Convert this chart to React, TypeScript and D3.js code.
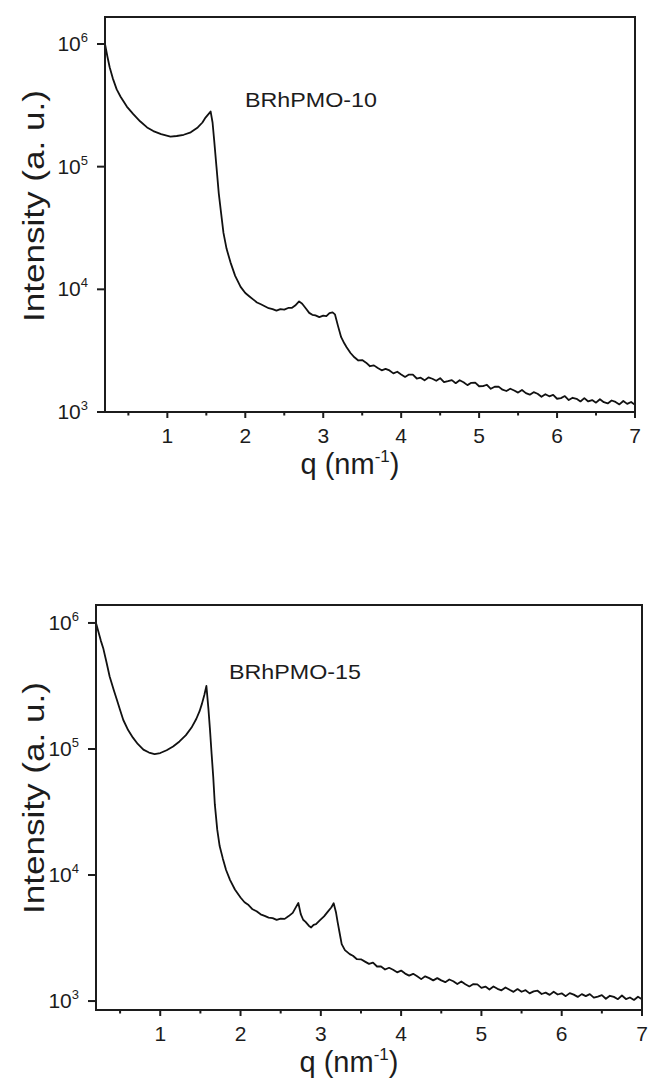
import React from 'react';
import * as d3 from 'd3';

// ---------- data ----------
const qTop = [
  0.20, 0.23, 0.26, 0.30, 0.35, 0.40, 0.48, 0.56, 0.65, 0.74, 0.82, 0.92, 1.04, 1.12, 1.21, 1.30, 1.39, 1.45, 1.49, 1.53, 1.555,
  1.58, 1.60, 1.63, 1.66, 1.69, 1.72, 1.76, 1.81, 1.87, 1.94,
  2.00, 2.05, 2.10, 2.15, 2.20, 2.25, 2.30, 2.35, 2.40, 2.45, 2.50, 2.55, 2.60, 2.64, 2.69, 2.73, 2.78, 2.82, 2.86, 2.90, 2.95,
  3.00, 3.04, 3.08, 3.12, 3.15, 3.19, 3.23, 3.27, 3.30,
  3.35, 3.40, 3.45, 3.50, 3.55, 3.60, 3.65, 3.70, 3.75, 3.80, 3.85, 3.90, 3.95, 4.00, 4.05, 4.10, 4.15, 4.20, 4.25, 4.30, 4.35,
  4.40, 4.45, 4.50, 4.55, 4.60, 4.65, 4.70, 4.75, 4.80, 4.85, 4.90, 4.95, 5.00, 5.05, 5.10, 5.15, 5.20, 5.25, 5.30, 5.35, 5.40,
  5.45, 5.50, 5.55, 5.60, 5.65, 5.70, 5.75, 5.80, 5.85, 5.90, 5.95, 6.00, 6.05, 6.10, 6.15, 6.20, 6.25, 6.30, 6.35, 6.40, 6.45,
  6.50, 6.55, 6.60, 6.65, 6.70, 6.75, 6.80, 6.85, 6.90, 6.95, 7.00,
];
const log10IntensityTop = [
  6.00, 5.90, 5.81, 5.72, 5.63, 5.57, 5.49, 5.43, 5.37, 5.32, 5.29, 5.265, 5.245, 5.25, 5.26, 5.28, 5.32, 5.36, 5.40, 5.43, 5.45,
  5.36, 5.22, 5.00, 4.78, 4.62, 4.46, 4.33, 4.22, 4.11, 4.02,
  3.970, 3.944, 3.918, 3.893, 3.878, 3.862, 3.846, 3.838, 3.826, 3.838, 3.834, 3.848, 3.850, 3.868, 3.902, 3.882, 3.842, 3.808,
  3.792, 3.788, 3.774,
  3.786, 3.782, 3.806, 3.812, 3.796, 3.700, 3.610, 3.560, 3.528,
  3.481, 3.446, 3.420, 3.423, 3.402, 3.373, 3.380, 3.358, 3.340, 3.352, 3.339, 3.315, 3.328, 3.306, 3.286, 3.305, 3.304, 3.273,
  3.280, 3.258, 3.282,
  3.271, 3.255, 3.276, 3.243, 3.251, 3.260, 3.235, 3.259, 3.242, 3.219, 3.238, 3.239, 3.210, 3.211, 3.222, 3.189, 3.206, 3.207,
  3.182, 3.171, 3.190,
  3.175, 3.158, 3.179, 3.154, 3.141, 3.162, 3.149, 3.124, 3.145, 3.128, 3.139, 3.108, 3.113, 3.130, 3.097, 3.116, 3.107, 3.086,
  3.113, 3.086, 3.097,
  3.076, 3.104, 3.080, 3.070, 3.094, 3.082, 3.062, 3.090, 3.066, 3.082, 3.058,
];

const qBottom = [
  0.20, 0.23, 0.26, 0.29, 0.33, 0.37, 0.42, 0.46, 0.50, 0.54, 0.60, 0.66, 0.72, 0.79, 0.86, 0.93, 1.00, 1.08, 1.16, 1.24, 1.32,
  1.39, 1.45, 1.49, 1.52, 1.55, 1.575, 1.60, 1.62, 1.64, 1.66, 1.68, 1.71, 1.74, 1.78, 1.82, 1.87,
  1.93, 2.00, 2.05, 2.10, 2.15, 2.20, 2.25, 2.30, 2.35, 2.40, 2.45, 2.50, 2.55, 2.60, 2.65, 2.69, 2.72, 2.75, 2.78, 2.81, 2.85,
  2.88, 2.91, 2.94, 2.99, 3.04, 3.09, 3.13, 3.16, 3.19, 3.21, 3.24, 3.26, 3.30, 3.36,
  3.40, 3.45, 3.50, 3.55, 3.60, 3.65, 3.70, 3.75, 3.80, 3.85, 3.90, 3.95, 4.00, 4.05, 4.10, 4.15,
  4.20, 4.25, 4.30, 4.35, 4.40, 4.45, 4.50, 4.55, 4.60, 4.65, 4.70, 4.75, 4.80, 4.85, 4.90, 4.95, 5.00, 5.05, 5.10, 5.15, 5.20,
  5.25, 5.30, 5.35, 5.40, 5.45, 5.50, 5.55, 5.60, 5.65, 5.70, 5.75, 5.80, 5.85, 5.90, 5.95, 6.00, 6.05, 6.10, 6.15, 6.20, 6.25,
  6.30, 6.35, 6.40, 6.45, 6.50, 6.55, 6.60, 6.65, 6.70, 6.75, 6.80, 6.85, 6.90, 6.95, 7.00,
];
const log10IntensityBottom = [
  6.00, 5.93, 5.86, 5.80, 5.69, 5.575, 5.47, 5.39, 5.31, 5.23, 5.15, 5.09, 5.04, 4.995, 4.972, 4.96, 4.968, 4.99, 5.02, 5.06, 5.11,
  5.17, 5.24, 5.30, 5.36, 5.43, 5.50, 5.32, 5.15, 4.96, 4.78, 4.56, 4.36, 4.23, 4.13, 4.04, 3.96,
  3.885, 3.822, 3.784, 3.762, 3.728, 3.712, 3.688, 3.676, 3.662, 3.658, 3.644, 3.654, 3.652, 3.674, 3.700, 3.745, 3.778, 3.690,
  3.645, 3.628, 3.598,
  3.584, 3.604, 3.610, 3.642, 3.672, 3.712, 3.742, 3.776, 3.700, 3.625, 3.520, 3.452, 3.404, 3.372,
  3.359, 3.332, 3.331, 3.313, 3.295, 3.305, 3.274, 3.274, 3.250, 3.264, 3.248, 3.228, 3.242, 3.218, 3.202, 3.216,
  3.196, 3.174, 3.196, 3.182, 3.164, 3.182, 3.164, 3.150, 3.171, 3.157, 3.135, 3.155, 3.133, 3.116, 3.135, 3.132, 3.105, 3.115,
  3.092, 3.116, 3.097,
  3.085, 3.108, 3.090, 3.073, 3.095, 3.074, 3.086, 3.061, 3.077, 3.082, 3.056, 3.067, 3.049, 3.074, 3.052, 3.061, 3.039, 3.063,
  3.051, 3.033, 3.055,
  3.039, 3.055, 3.027, 3.035, 3.047, 3.018, 3.042, 3.033, 3.015, 3.044, 3.016, 3.028, 3.009, 3.034, 3.014,
];

const xMajorTicks = [1, 2, 3, 4, 5, 6, 7];
const xMinorTicks = [0.5, 1.5, 2.5, 3.5, 4.5, 5.5, 6.5];
const yDecadeExponents = [3, 4, 5, 6];
const sampleNames = ['BRhPMO-10', 'BRhPMO-15'];
const xTitleMain = 'q (nm';
const xTitleSup = '-1';
const yTitle = 'Intensity (a. u.)';

const FONT = 'Arial, "Liberation Sans", Helvetica, sans-serif';
const INK = '#1c1c1c';

type PanelProps = {
  q: number[];
  logI: number[];
  name: string;
  left: number;
  right: number;
  top: number;
  bottom: number;
  yMinExp: number;
  yMaxExp: number;
  labelX: number;
  labelY: number;
  titleX: number;
  yTitleCenter: number;
  id: string;
};

function Panel(p: PanelProps) {
  const x = d3.scaleLinear().domain([0.2, 7]).range([p.left, p.right]);
  const y = d3.scaleLog().domain([Math.pow(10, p.yMinExp), Math.pow(10, p.yMaxExp)]).range([p.bottom, p.top]);
  const line = d3
    .line<number>()
    .x((_, i) => x(p.q[i]))
    .y((d) => y(Math.pow(10, d)))
    .curve(d3.curveLinear);
  const path = line(p.logI) || '';
  return (
    <g>
      <defs>
        <clipPath id={`clip-${p.id}`}>
          <rect x={p.left} y={p.top} width={p.right - p.left} height={p.bottom - p.top} />
        </clipPath>
      </defs>
      <path d={path} fill="none" stroke="#111" strokeWidth={1.8} strokeLinejoin="round" clipPath={`url(#clip-${p.id})`} />
      <rect x={p.left} y={p.top} width={p.right - p.left} height={p.bottom - p.top} fill="none" stroke={INK} strokeWidth={2} />
      {/* x ticks */}
      {xMajorTicks.map((t) => (
        <g key={`xm${t}`}>
          <line x1={x(t)} x2={x(t)} y1={p.bottom} y2={p.bottom + 6} stroke={INK} strokeWidth={2} />
          <text x={x(t)} y={p.bottom + 31} textAnchor="middle" fontFamily={FONT} fontSize={21} fill={INK}>
            {t}
          </text>
        </g>
      ))}
      {xMinorTicks.map((t) => (
        <line key={`xn${t}`} x1={x(t)} x2={x(t)} y1={p.bottom} y2={p.bottom + 3.5} stroke={INK} strokeWidth={2} />
      ))}
      {/* y ticks */}
      {yDecadeExponents.map((e) => {
        const yy = y(Math.pow(10, e));
        return (
          <g key={`y${e}`}>
            <line x1={p.left - 8} x2={p.left} y1={yy} y2={yy} stroke={INK} strokeWidth={2} />
            <text x={p.left - 17} y={yy + 7} textAnchor="end" fontFamily={FONT} fontSize={21} fill={INK}>
              <tspan>10</tspan>
              <tspan dy={-9} fontSize={13}>{e}</tspan>
            </text>
          </g>
        );
      })}
      {/* sample label */}
      <text x={p.labelX} y={p.labelY} fontFamily={FONT} fontSize={21} fill={INK} textLength={132} lengthAdjust="spacingAndGlyphs">
        {p.name}
      </text>
      {/* x title */}
      <text x={p.titleX} y={p.bottom + 62} textAnchor="middle" fontFamily={FONT} fontSize={29} fill={INK}>
        <tspan>{xTitleMain}</tspan>
        <tspan dy={-12} fontSize={17}>{xTitleSup}</tspan>
        <tspan dy={12}>)</tspan>
      </text>
      {/* y title */}
      <text
        transform={`translate(44, ${p.yTitleCenter}) rotate(-90)`}
        textAnchor="middle"
        fontFamily={FONT}
        fontSize={29}
        fill={INK}
        textLength={232}
        lengthAdjust="spacingAndGlyphs"
      >
        {yTitle}
      </text>
    </g>
  );
}

export default function App() {
  return (
    <svg
      width={651}
      height={1088}
      viewBox="0 0 651 1088"
      style={{ position: 'absolute', left: 0, top: 0, background: '#fff' }}
    >
      <rect x={0} y={0} width={651} height={1088} fill="#fff" />
      <Panel
        id="top"
        q={qTop}
        logI={log10IntensityTop}
        name={sampleNames[0]}
        left={105}
        right={635}
        top={17}
        bottom={412}
        yMinExp={3}
        yMaxExp={6.22}
        labelX={245}
        labelY={107}
        titleX={350}
        yTitleCenter={206}
      />
      <Panel
        id="bottom"
        q={qBottom}
        logI={log10IntensityBottom}
        name={sampleNames[1]}
        left={96}
        right={642}
        top={605}
        bottom={1010}
        yMinExp={2.929}
        yMaxExp={6.1425}
        labelX={229}
        labelY={679}
        titleX={349}
        yTitleCenter={798}
      />
    </svg>
  );
}
